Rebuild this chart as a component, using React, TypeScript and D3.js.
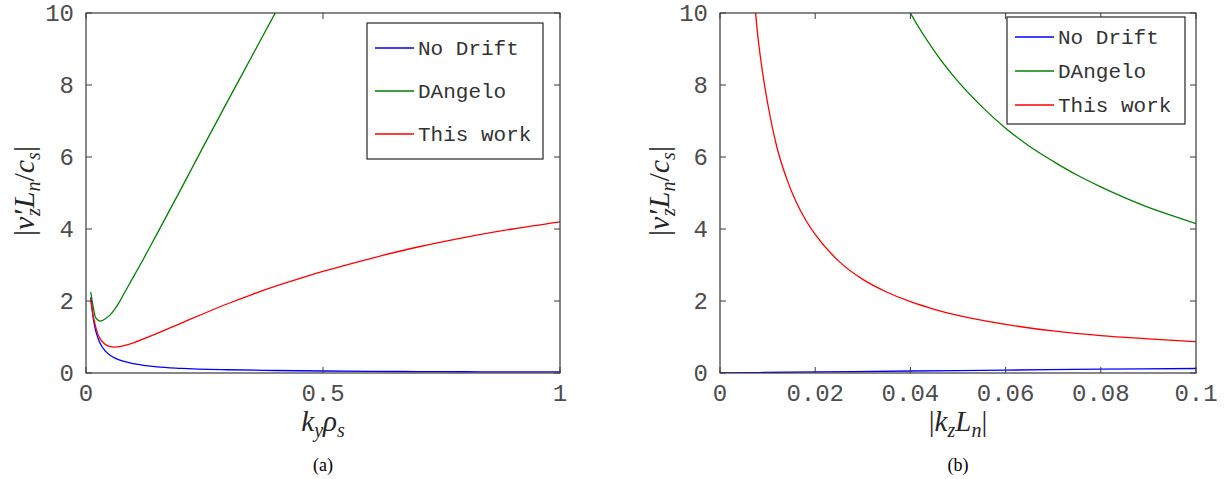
import * as d3 from 'd3';
import React from 'react';

// ---- data ----
// panel (a): |v'z Ln / cs| versus ky rho_s
const kyNoDrift = [0.01, 0.015, 0.02, 0.025, 0.03, 0.04, 0.05, 0.06, 0.08, 0.1, 0.15, 0.2, 0.3, 0.4, 0.5, 0.6, 0.7, 0.8, 0.9, 1.0];
const vNoDriftA = [2.1, 1.55, 1.2, 0.98, 0.82, 0.62, 0.5, 0.42, 0.32, 0.26, 0.17, 0.13, 0.09, 0.07, 0.055, 0.045, 0.04, 0.035, 0.03, 0.03];

const kyDAngelo = [0.01, 0.015, 0.02, 0.025, 0.03, 0.035, 0.04, 0.05, 0.06, 0.07, 0.08, 0.1, 0.12, 0.15, 0.2, 0.25, 0.3, 0.35, 0.4, 0.42];
const vDAngeloA = [2.25, 1.85, 1.55, 1.47, 1.44, 1.46, 1.5, 1.6, 1.76, 1.96, 2.2, 2.67, 3.14, 3.87, 5.1, 6.35, 7.58, 8.8, 10.02, 10.5];

const kyThisWork = [0.01, 0.015, 0.02, 0.025, 0.03, 0.04, 0.05, 0.06, 0.07, 0.08, 0.1, 0.15, 0.2, 0.25, 0.3, 0.35, 0.4, 0.45, 0.5, 0.6, 0.7, 0.8, 0.9, 1.0];
const vThisWorkA = [2.05, 1.6, 1.3, 1.08, 0.95, 0.8, 0.74, 0.72, 0.73, 0.76, 0.84, 1.1, 1.38, 1.66, 1.93, 2.18, 2.41, 2.62, 2.82, 3.18, 3.5, 3.77, 4.0, 4.2];

// panel (b): |v'z Ln / cs| versus |kz Ln|
const kzNoDrift = [0, 0.02, 0.04, 0.06, 0.08, 0.1];
const vNoDriftB = [0.0, 0.03, 0.055, 0.08, 0.105, 0.125];

const kzDAngelo = [0.039, 0.04, 0.045, 0.05, 0.055, 0.06, 0.065, 0.07, 0.075, 0.08, 0.085, 0.09, 0.095, 0.1];
const vDAngeloB = [10.25, 10.0, 8.95, 8.1, 7.4, 6.8, 6.3, 5.88, 5.5, 5.17, 4.87, 4.6, 4.37, 4.15];

const kzThisWork = [0.007, 0.008, 0.009, 0.01, 0.012, 0.014, 0.016, 0.018, 0.02, 0.025, 0.03, 0.035, 0.04, 0.045, 0.05, 0.06, 0.07, 0.08, 0.09, 0.1];
const vThisWorkB = [10.7, 9.3, 8.3, 7.5, 6.25, 5.4, 4.75, 4.25, 3.85, 3.1, 2.6, 2.25, 1.98, 1.77, 1.6, 1.35, 1.17, 1.04, 0.95, 0.87];

const seriesNames = ['No Drift', 'DAngelo', 'This work'];
const seriesColors = ['#0000ff', '#008000', '#ff0000'];

const yTicks = [0, 2, 4, 6, 8, 10];
const xTicksA = [0, 0.5, 1];
const xTickLabelsA = ['0', '0.5', '1'];
const xTicksB = [0, 0.02, 0.04, 0.06, 0.08, 0.1];
const xTickLabelsB = ['0', '0.02', '0.04', '0.06', '0.08', '0.1'];

const W = 1227;
const H = 479;
const top = 13;
const bottom = 373;
const axisColor = '#3a3a3a';
const tickTextColor = '#4d4d4d';
const monoFont = '"Liberation Mono", "DejaVu Sans Mono", monospace';
const serifFont = '"Liberation Serif", "DejaVu Serif", serif';

type PanelProps = {
  id: string;
  left: number;
  right: number;
  xDomain: [number, number];
  xTicks: number[];
  xTickLabels: string[];
  series: { xs: number[]; ys: number[] }[];
  legend: { x: number; y: number; w: number; h: number; rows: number[] };
  xLabel: React.ReactNode;
  caption: string;
  yLabelX: number;
};

const Panel = ({ id, left, right, xDomain, xTicks, xTickLabels, series, legend, xLabel, caption, yLabelX }: PanelProps) => {
  const x = d3.scaleLinear(xDomain, [left, right]);
  const y = d3.scaleLinear([0, 10], [bottom, top]);
  const line = d3.line<[number, number]>()
    .x(d => x(d[0]))
    .y(d => y(d[1]))
    .curve(d3.curveMonotoneX);
  const cx = (left + right) / 2;
  const tick = 6;

  return (
    <g>
      <defs>
        <clipPath id={`clip-${id}`}>
          <rect x={left} y={top} width={right - left} height={bottom - top} />
        </clipPath>
      </defs>

      {/* the curves */}
      <g clipPath={`url(#clip-${id})`}>
        {series.map((s, i) => (
          <path key={i}
            d={line(s.xs.map((v, j) => [v, s.ys[j]] as [number, number])) ?? ''}
            fill="none" stroke={seriesColors[i]} strokeWidth={1.3} />
        ))}
      </g>

      {/* box and ticks */}
      <rect x={left} y={top} width={right - left} height={bottom - top}
        fill="none" stroke={axisColor} strokeWidth={1.2} />
      {yTicks.map(t => (
        <g key={`y${t}`}>
          <line x1={left} x2={left + tick} y1={y(t)} y2={y(t)} stroke={axisColor} />
          <line x1={right} x2={right - tick} y1={y(t)} y2={y(t)} stroke={axisColor} />
          <text x={left - 12} y={y(t)} dy="0.35em" textAnchor="end"
            fontFamily={monoFont} fontSize={24} fill={tickTextColor}>{t}</text>
        </g>
      ))}
      {xTicks.map((t, i) => (
        <g key={`x${t}`}>
          <line x1={x(t)} x2={x(t)} y1={bottom} y2={bottom - tick} stroke={axisColor} />
          <line x1={x(t)} x2={x(t)} y1={top} y2={top + tick} stroke={axisColor} />
          <text x={x(t)} y={401} textAnchor="middle"
            fontFamily={monoFont} fontSize={24} fill={tickTextColor}>{xTickLabels[i]}</text>
        </g>
      ))}

      {/* axis labels */}
      <text transform={`translate(${yLabelX},${(top + bottom) / 2 - 2}) rotate(-90)`}
        textAnchor="middle" fontFamily={serifFont} fontSize={30} fill="#262626">
        <tspan>|</tspan>
        <tspan fontStyle="italic">v′</tspan>
        <tspan fontStyle="italic" fontSize={20} dx={-6} dy={6}>z</tspan>
        <tspan fontStyle="italic" dy={-6}>L</tspan>
        <tspan fontStyle="italic" fontSize={20} dy={6}>n</tspan>
        <tspan dy={-6}>/</tspan>
        <tspan fontStyle="italic">c</tspan>
        <tspan fontStyle="italic" fontSize={20} dy={6}>s</tspan>
        <tspan dy={-6}>|</tspan>
      </text>
      <text x={cx} y={431} textAnchor="middle" fontFamily={serifFont} fontSize={29} fill="#262626">
        {xLabel}
      </text>
      <text x={cx} y={471} textAnchor="middle" fontFamily={serifFont} fontSize={18} fill="#000">
        {caption}
      </text>

      {/* legend */}
      <rect x={legend.x} y={legend.y} width={legend.w} height={legend.h}
        fill="#fff" stroke="#262626" strokeWidth={1.2} />
      {seriesNames.map((name, i) => (
        <g key={name}>
          <line x1={legend.x + 8} x2={legend.x + 47} y1={legend.rows[i]} y2={legend.rows[i]}
            stroke={seriesColors[i]} strokeWidth={1.3} />
          <text x={legend.x + 51} y={legend.rows[i]} dy="0.35em"
            fontFamily={monoFont} fontSize={21} fill="#333">{name}</text>
        </g>
      ))}
    </g>
  );
};

export default function App() {
  return (
    <svg width={W} height={H} viewBox={`0 0 ${W} ${H}`}
      style={{ position: 'absolute', left: 0, top: 0, background: '#fff' }}>
      <Panel id="a" left={86} right={560} xDomain={[0, 1]}
        xTicks={xTicksA} xTickLabels={xTickLabelsA}
        series={[
          { xs: kyNoDrift, ys: vNoDriftA },
          { xs: kyDAngelo, ys: vDAngeloA },
          { xs: kyThisWork, ys: vThisWorkA },
        ]}
        legend={{ x: 367, y: 23, w: 176, h: 136, rows: [48, 91, 134] }}
        xLabel={<>
          <tspan fontStyle="italic">k</tspan>
          <tspan fontStyle="italic" fontSize={20} dy={6}>y</tspan>
          <tspan fontStyle="italic" dy={-6}>ρ</tspan>
          <tspan fontStyle="italic" fontSize={20} dy={6}>s</tspan>
        </>}
        caption="(a)" yLabelX={34} />
      <Panel id="b" left={720} right={1196} xDomain={[0, 0.1]}
        xTicks={xTicksB} xTickLabels={xTickLabelsB}
        series={[
          { xs: kzNoDrift, ys: vNoDriftB },
          { xs: kzDAngelo, ys: vDAngeloB },
          { xs: kzThisWork, ys: vThisWorkB },
        ]}
        legend={{ x: 1007, y: 17, w: 178, h: 107, rows: [37, 71, 105] }}
        xLabel={<>
          <tspan>|</tspan>
          <tspan fontStyle="italic">k</tspan>
          <tspan fontStyle="italic" fontSize={20} dy={6}>z</tspan>
          <tspan fontStyle="italic" dy={-6}>L</tspan>
          <tspan fontStyle="italic" fontSize={20} dy={6}>n</tspan>
          <tspan dy={-6}>|</tspan>
        </>}
        caption="(b)" yLabelX={669} />
    </svg>
  );
}
